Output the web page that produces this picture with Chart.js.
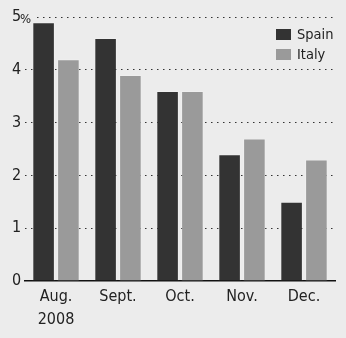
<!DOCTYPE html>
<html><head><meta charset="utf-8">
<script src="https://cdn.jsdelivr.net/npm/chart.js@4"></script>
<style>html,body{margin:0;padding:0;background:#ececec;}#wrap{width:346px;height:338px;}</style>
</head><body><div id="wrap"><canvas id="c" width="346" height="338"></canvas></div>
<script>
const categories = [["Aug.","2008"],"Sept.","Oct.","Nov.","Dec."];
const spain = [4.9, 4.6, 3.6, 2.4, 1.5];
const italy = [4.2, 3.9, 3.6, 2.7, 2.3];
const yTicks = [0,1,2,3,4,5];
const FONT = "'DejaVu Sans Condensed', 'DejaVu Sans', sans-serif";
const BG = '#ececec';

const extras = {
  id: 'extras',
  afterDraw(chart) {
    const ctx = chart.ctx;
    const y = chart.scales.y;
    const py = y.getPixelForValue(5);
    ctx.save();
    ctx.fillStyle = BG;
    ctx.fillRect(25, py - 3, 8, 6);
    ctx.fillStyle = '#222';
    ctx.font = '13px ' + FONT;
    ctx.textBaseline = 'alphabetic';
    ctx.textAlign = 'left';
    ctx.fillText('%', 20, py + 6);
    // legend
    const items = chart.data.datasets;
    ctx.font = '14.5px ' + FONT;
    ctx.textBaseline = 'middle';
    items.forEach((ds, i) => {
      const top = 29 + i * 20;
      ctx.fillStyle = ds.backgroundColor;
      ctx.fillRect(276, top, 15, 11);
      ctx.fillStyle = '#222';
      ctx.fillText(ds.label, 297, top + 6);
    });
    ctx.restore();
  }
};

new Chart(document.getElementById('c'), {
  type: 'bar',
  data: {
    labels: categories,
    datasets: [
      { label: 'Spain', data: spain, backgroundColor: '#333333', borderColor: 'rgba(255,255,255,0.2)', borderWidth: 1 },
      { label: 'Italy', data: italy, backgroundColor: '#9a9a9a', borderColor: 'rgba(255,255,255,0.2)', borderWidth: 1 }
    ]
  },
  options: {
    responsive: false,
    animation: false,
    layout: { padding: { top: 17, left: 12, right: 11, bottom: 0 } },
    plugins: { legend: { display: false }, tooltip: { enabled: false } },
    datasets: { bar: { categoryPercentage: 0.8, barPercentage: 0.91 } },
    scales: {
      x: {
        afterFit(s) { s.height = 57; },
        grid: { display: false, drawTicks: false },
        border: { display: true, color: '#111', width: 1.5 },
        ticks: { color: '#222', font: { family: FONT, size: 16, lineHeight: 1.45 }, padding: 4, maxRotation: 0 }
      },
      y: {
        min: 0, max: 5,
        afterFit(s) { s.width = 13; },
        afterBuildTicks(s) { s.ticks = yTicks.map(v => ({ value: v })); },
        grid: {
          color: (c) => c.tick && c.tick.value === 0 ? 'rgba(0,0,0,0)' : '#333',
          lineWidth: 1,
          drawTicks: false
        },
        border: { display: false, dash: [1.5, 4.5] },
        ticks: { color: '#222', font: { family: FONT, size: 16 }, crossAlign: 'far', padding: 0 }
      }
    }
  },
  plugins: [extras]
});
</script>
</body></html>
